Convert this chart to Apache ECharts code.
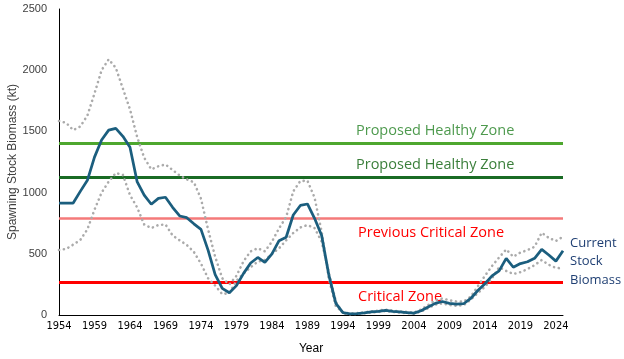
<!DOCTYPE html>
<html>
<head>
<meta charset="utf-8">
<script src="https://cdn.jsdelivr.net/npm/echarts@6/dist/echarts.min.js"></script>
<style>html,body{margin:0;padding:0;background:#fff}#c{width:624px;height:359px}</style>
</head>
<body>
<div id="c"></div>
<script>
var years = [];
for (var y = 1954; y <= 2025; y++) years.push(String(y));

var biomass = [915,915,915,1010,1100,1290,1430,1510,1525,1460,1370,1090,980,905,953,962,880,809,795,745,700,530,330,218,182,240,340,425,470,430,500,607,635,817,895,907,790,650,330,95,19,10,12,18,25,30,38,30,25,20,15,35,65,95,110,95,88,92,135,200,255,320,360,463,390,420,435,463,536,490,440,525];

var upperBound = [1585,1570,1511,1540,1630,1810,2000,2089,2020,1850,1680,1457,1285,1190,1215,1230,1185,1140,1108,1085,950,700,476,300,250,320,440,520,545,520,600,708,800,1010,1095,1097,960,680,300,70,22,14,16,22,30,36,44,36,30,25,20,45,80,120,135,120,110,110,150,235,320,400,470,536,476,510,530,558,672,630,605,640];

var lowerBound = [531,540,575,613,700,860,1000,1090,1160,1145,980,880,740,710,735,740,650,610,572,515,420,300,240,170,180,280,340,390,436,449,500,545,610,670,715,735,710,600,350,110,12,7,9,14,20,25,32,25,20,16,11,28,55,85,95,82,76,80,125,180,230,300,390,360,335,350,375,408,449,410,385,381];

var refNames = ['Proposed Healthy Zone','Proposed Healthy Zone','Previous Critical Zone','Critical Zone'];
var refValues = [1400, 1125, 790, 265];

var yTicks = [0, 500, 1000, 1500, 2000, 2500];

var refStyles = [
  {color:'#4EA72E', width:3, label:'#4E9A4E', pos:'insideStartTop', dist:5},
  {color:'#196B24', width:3, label:'#3B7F3B', pos:'insideStartTop', dist:5},
  {color:'#F47A7A', width:2.5, label:'#FF0000', pos:'insideStartBottom', dist:7},
  {color:'#FF0000', width:3, label:'#FF0000', pos:'insideStartBottom', dist:7}
];

var markData = refValues.map(function(v, i){
  var s = refStyles[i];
  return {
    yAxis: v,
    lineStyle: {color: s.color, width: s.width, type: 'solid'},
    label: {show: true, formatter: refNames[i], position: s.pos, color: s.label,
            fontSize: 14.5, fontFamily: 'Open Sans', offset: [292, 0], distance: s.dist}
  };
});

var chart = echarts.init(document.getElementById('c'), null, {renderer: 'canvas'});
chart.setOption({
  animation: false,
  backgroundColor: '#ffffff',
  grid: {left: 59, right: 61, top: 9, bottom: 44, containLabel: false, outerBoundsMode: 'none'},
  xAxis: {
    type: 'category', data: years, boundaryGap: false,
    name: 'Year', nameLocation: 'middle', nameGap: 28, nameMoveOverlap: false,
    nameTextStyle: {color: '#000', fontSize: 12, fontFamily: 'Liberation Sans'},
    axisLine: {lineStyle: {color: '#000', width: 1}},
    axisTick: {show: false},
    axisLabel: {interval: 4, color: '#000', fontSize: 11, fontFamily: 'DejaVu Sans Condensed', margin: 6},
    splitLine: {show: false}
  },
  yAxis: {
    type: 'value', min: yTicks[0], max: yTicks[yTicks.length-1], interval: 500,
    name: 'Spawning Stock Biomass (kt)', nameLocation: 'middle', nameGap: 40, nameMoveOverlap: false,
    nameTextStyle: {color: '#404040', fontSize: 12, fontFamily: 'Liberation Sans'},
    axisLine: {show: true, lineStyle: {color: '#000', width: 1}},
    axisTick: {show: false},
    axisLabel: {color: '#404040', fontSize: 11, fontFamily: 'Liberation Sans', margin: 12,
                formatter: function(v){ return String(v); }},
    splitLine: {show: false}
  },
  series: [
    {
      name: 'Upper', type: 'line', data: upperBound, symbol: 'none', z: 2,
      lineStyle: {color: '#ABABAB', width: 2.6, type: [0.1, 4.8], cap: 'round'}
    },
    {
      name: 'Lower', type: 'line', data: lowerBound, symbol: 'none', z: 2,
      lineStyle: {color: '#ABABAB', width: 2.6, type: [0.1, 4.8], cap: 'round'}
    },
    {
      name: 'Current Stock Biomass', type: 'line', data: biomass, symbol: 'none', z: 3,
      lineStyle: {color: '#1B5E7E', width: 2.75},
      endLabel: {show: true, formatter: 'Current\nStock\nBiomass', color: '#1F3F73',
                 fontSize: 13, fontFamily: 'Open Sans', lineHeight: 18.5, offset: [-1, 11], align: 'left'},
      markLine: {silent: true, symbol: 'none', data: markData, z: 1}
    }
  ]
});
</script>
</body>
</html>
